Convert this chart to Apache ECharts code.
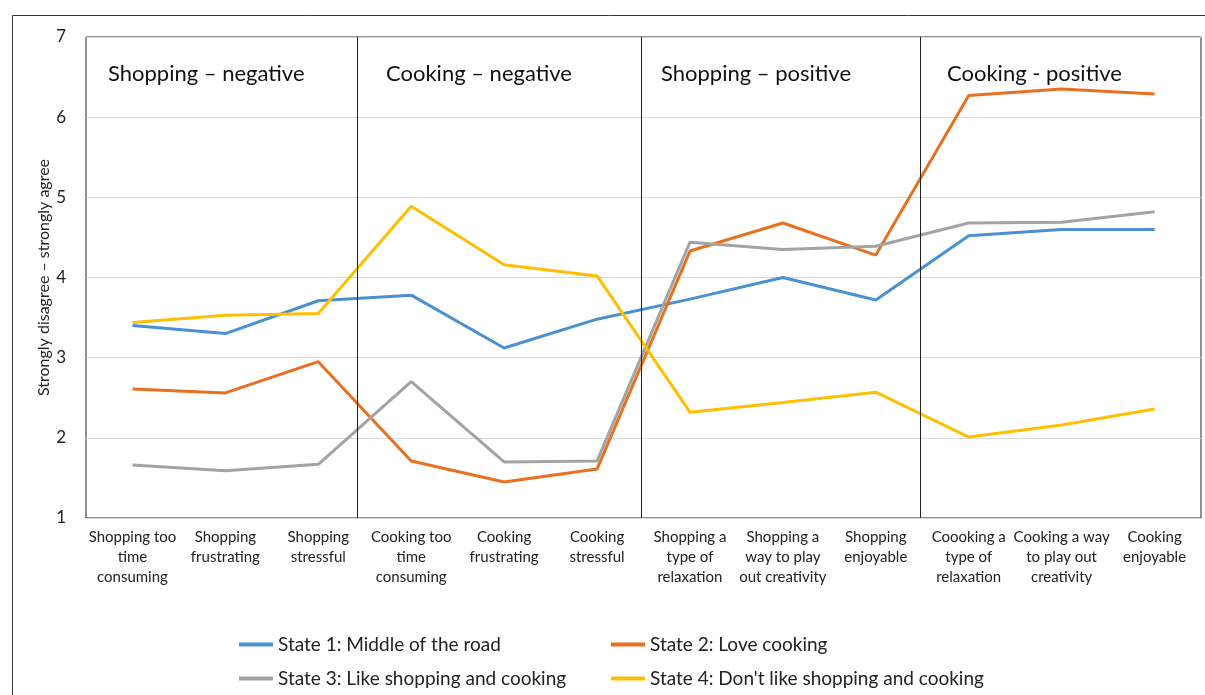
<!DOCTYPE html>
<html lang="en">
<head>
    <meta charset="utf-8">
    <title>States chart</title>
    <script src="https://cdn.jsdelivr.net/npm/echarts@6/dist/echarts.min.js"></script>
    <style>
        html, body { margin: 0; padding: 0; background: #fff; }
    </style>
</head>
<body>
<div id="main" style="width: 1205px;height:695px"></div>
<script>
    // categories (x axis), with the line breaks used in the picture
    var categories = [
        'Shopping too\ntime\nconsuming', 'Shopping\nfrustrating', 'Shopping\nstressful',
        'Cooking too\ntime\nconsuming', 'Cooking\nfrustrating', 'Cooking\nstressful',
        'Shopping a\ntype of\nrelaxation', 'Shopping a\nway to play\nout creativity', 'Shopping\nenjoyable',
        'Coooking a\ntype of\nrelaxation', 'Cooking a way\nto play out\ncreativity', 'Cooking\nenjoyable'
    ];
    var seriesNames = [
        'State 1: Middle of the road',
        'State 2: Love cooking',
        'State 3: Like shopping and cooking',
        "State 4: Don't like shopping and cooking"
    ];
    var state1 = [3.40, 3.30, 3.71, 3.78, 3.12, 3.48, 3.73, 4.00, 3.72, 4.52, 4.60, 4.60];
    var state2 = [2.61, 2.56, 2.95, 1.71, 1.45, 1.61, 4.33, 4.68, 4.28, 6.27, 6.35, 6.29];
    var state3 = [1.66, 1.59, 1.67, 2.70, 1.70, 1.71, 4.44, 4.35, 4.39, 4.68, 4.69, 4.82];
    var state4 = [3.44, 3.53, 3.55, 4.89, 4.16, 4.02, 2.32, 2.44, 2.57, 2.01, 2.16, 2.36];
    var sections = ['Shopping \u2013 negative', 'Cooking \u2013 negative', 'Shopping \u2013 positive', 'Cooking - positive'];
    var yTicks = [1, 2, 3, 4, 5, 6, 7];

    var colors = ['#4a90d2', '#e8701f', '#a3a3a3', '#ffbf00'];
    var font = 'Lato, "Open Sans", sans-serif';

    var chart = echarts.init(document.getElementById('main'));

    // separators between the four groups (in band units)
    var dividers = [2.92, 5.98, 8.98];
    var sectionX = [108, 386, 661, 947];
    var legendPos = [[234, 630], [606, 630], [234, 664], [606, 664]];

    var series = [state1, state2, state3, state4].map(function (d, i) {
        return {
            name: seriesNames[i],
            type: 'line',
            data: d,
            symbol: 'none',
            smooth: false,
            z: 3,
            lineStyle: { width: 3, color: colors[i] },
            itemStyle: { color: colors[i] }
        };
    });
    series.push({
        type: 'line',
        xAxisIndex: 1,
        data: [],
        silent: true,
        markLine: {
            symbol: 'none',
            silent: true,
            label: { show: false },
            lineStyle: { color: '#222', width: 1, type: 'solid' },
            data: dividers.map(function (v) { return { xAxis: v }; })
        }
    });

    var legends = seriesNames.map(function (n, i) {
        return {
            data: [n],
            left: legendPos[i][0],
            top: legendPos[i][1],
            icon: 'rect',
            itemWidth: 34,
            itemHeight: 4,
            textStyle: { fontFamily: font, fontSize: 19, color: '#222' }
        };
    });

    var option = {
        animation: false,
        grid: {
            left: 86, right: 4, top: 37, bottom: 177,
            show: true, borderColor: '#222', borderWidth: 1
        },
        legend: legends,
        graphic: [{
            type: 'rect',
            left: 10, top: 13,
            shape: { width: 1205, height: 700 },
            style: { fill: 'none', stroke: '#333', lineWidth: 1 },
            z: -10
        }].concat(sections.map(function (s, i) {
            return {
                type: 'text',
                left: sectionX[i],
                top: 63,
                style: { text: s, font: '22px ' + font, fill: '#111' }
            };
        })),
        xAxis: [{
            type: 'category',
            data: categories,
            boundaryGap: true,
            axisLine: { show: true, lineStyle: { color: '#d9d9d9' } },
            axisTick: { show: false },
            axisLabel: {
                interval: 0,
                margin: 9,
                fontFamily: font,
                fontSize: 15,
                lineHeight: 20,
                color: '#222'
            }
        }, {
            type: 'value',
            min: 0,
            max: 12,
            show: false
        }],
        yAxis: {
            type: 'value',
            min: yTicks[0],
            max: yTicks[yTicks.length - 1],
            interval: 1,
            name: 'Strongly disagree \u2013 strongly agree',
            nameLocation: 'middle',
            nameGap: 34,
            nameMoveOverlap: false,
            nameTextStyle: { fontFamily: font, fontSize: 16, color: '#222' },
            axisLine: { show: false },
            axisTick: { show: false },
            axisLabel: { fontFamily: font, fontSize: 17, color: '#222', margin: 20 },
            splitLine: { lineStyle: { color: '#d9d9d9' } }
        },
        series: series
    };
    chart.setOption(option);
    window.onresize = chart.resize;
</script>
</body>
</html>
